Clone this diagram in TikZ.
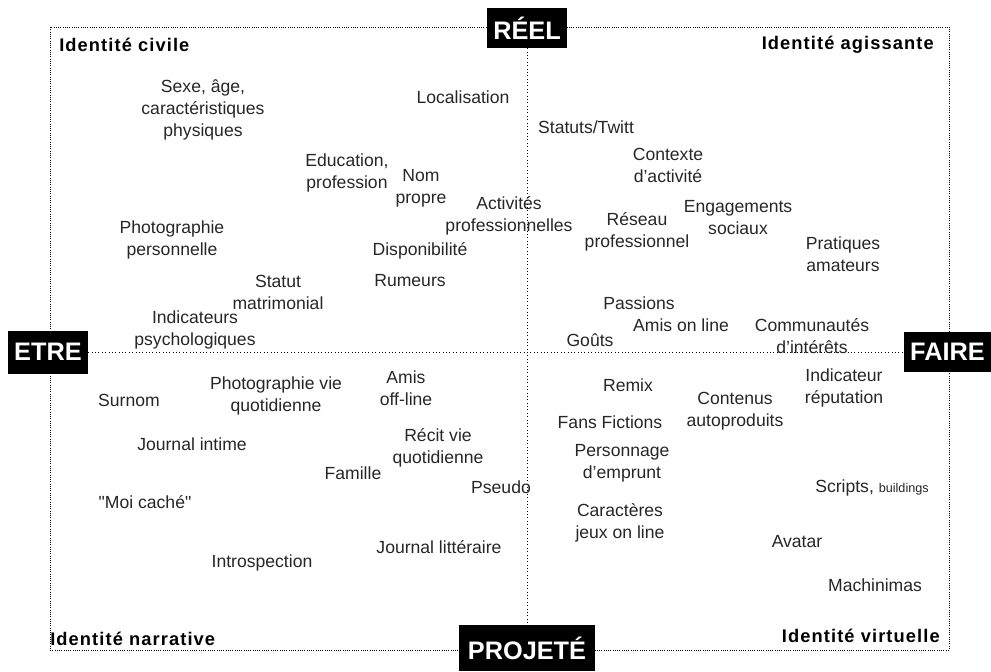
\documentclass[tikz,border=0pt]{standalone}
\usepackage{fontspec}
\setmainfont{Liberation Sans}
\newfontfamily\cornerfont[LetterSpace=6]{Liberation Sans}
\usetikzlibrary{positioning}

\begin{document}
\begin{tikzpicture}[x=0.025cm,y=-0.025cm,
        item/.style={align=center,inner sep=0pt,text=black!85,font=\fontsize{12.5}{15.6}\selectfont},
        corner/.style={inner sep=0pt,font=\cornerfont\fontsize{13}{15}\selectfont\bfseries},
        pole/.style={fill=black,text=white,inner sep=0pt,font=\fontsize{18}{20}\selectfont\bfseries}]
                \useasboundingbox (0,0) rectangle (991,671);

                % cadre
                \draw[densely dotted, semithick] (50,27) rectangle (949,650);

                % les quatre poles
                \node[pole, minimum width=2cm,   minimum height=1cm]     (reel)    at (527,28)    {RÉEL};
                \node[pole, minimum width=3.4cm, minimum height=1.15cm]  (projete) at (527,648)   {PROJETÉ};
                \node[pole, minimum width=2cm,   minimum height=1.075cm] (etre)    at (48,352)    {ETRE};
                \node[pole, minimum width=2.175cm, minimum height=1cm]   (faire)   at (947.5,352) {FAIRE};

                \draw[dotted] (reel) -- (projete);
                \draw[dotted] (etre) -- (faire);

                % identites
                \node[corner, anchor=west] (civile)    at (59,45)   {Identité civile};
                \node[corner, anchor=east] (agissante) at (934,45)  {Identité agissante};
                \node[corner, anchor=west] (narrative) at (50,639)  {Identité narrative};
                \node[corner, anchor=east] (virtuelle) at (940,636) {Identité virtuelle};

                % reel / etre
                \node[item] (sexe)    at (203,110)   {Sexe, âge,\\caractéristiques\\physiques};
                \node[item] (local)   at (463,97)    {Localisation};
                \node[item] (educ)    at (347,173)   {Education,\\profession};
                \node[item] (nom)     at (421,188)   {Nom\\propre};
                \node[item] (activ)   at (509,216)   {Activités\\professionnelles};
                \node[item] (photo)   at (172,240)   {Photographie\\personnelle};
                \node[item] (dispo)   at (420,251)   {Disponibilité};
                \node[item] (statut)  at (278,292)   {Statut\\matrimonial};
                \node[item] (rumeurs) at (410,281)   {Rumeurs};
                \node[item] (indic)   at (195,329.5) {Indicateurs\\psychologiques};

                % reel / faire
                \node[item] (statuts)  at (586,127)  {Statuts/Twitt};
                \node[item] (contexte) at (668,165)  {Contexte\\d'activité};
                \node[item] (reseau)   at (637,232)  {Réseau\\professionnel};
                \node[item] (engag)    at (738,217.5) {Engagements\\sociaux};
                \node[item] (pratiq)   at (843,254)  {Pratiques\\amateurs};
                \node[item] (passions) at (639,303)  {Passions};
                \node[item] (amis)     at (681,325)  {Amis on line};
                \node[item] (commun)   at (812,336)  {Communautés\\d'intérêts};
                \node[item] (gouts)    at (590,340)  {Goûts};

                % projete / etre
                \node[item] (surnom)   at (129,400)  {Surnom};
                \node[item] (photovie) at (276,396)  {Photographie vie\\quotidienne};
                \node[item] (amisoff)  at (406,388)  {Amis\\off-line};
                \node[item] (journal)  at (192,444)  {Journal intime};
                \node[item] (recit)    at (438,448)  {Récit vie\\quotidienne};
                \node[item] (famille)  at (353,473)  {Famille};
                \node[item] (pseudo)   at (501,487)  {Pseudo};
                \node[item] (moi)      at (145,502)  {\textquotedbl Moi caché\textquotedbl};
                \node[item] (litter)   at (439,547)  {Journal littéraire};
                \node[item] (intro)    at (262,563)  {Introspection};

                % projete / faire
                \node[item] (remix)    at (628,385)  {Remix};
                \node[item] (contenus) at (735,411)  {Contenus\\autoproduits};
                \node[item] (reput)    at (844,388)  {Indicateur\\réputation};
                \node[item] (fans)     at (610,422)  {Fans Fictions};
                \node[item] (perso)    at (622,463)  {Personnage\\d'emprunt};
                \node[item] (scripts)  at (872,488)  {Scripts, {\fontsize{9}{10}\selectfont buildings}};
                \node[item] (caract)   at (620,522.5) {Caractères\\jeux on line};
                \node[item] (avatar)   at (797,542)  {Avatar};
                \node[item] (machin)   at (875,585)  {Machinimas};
            \end{tikzpicture}
\end{document}
